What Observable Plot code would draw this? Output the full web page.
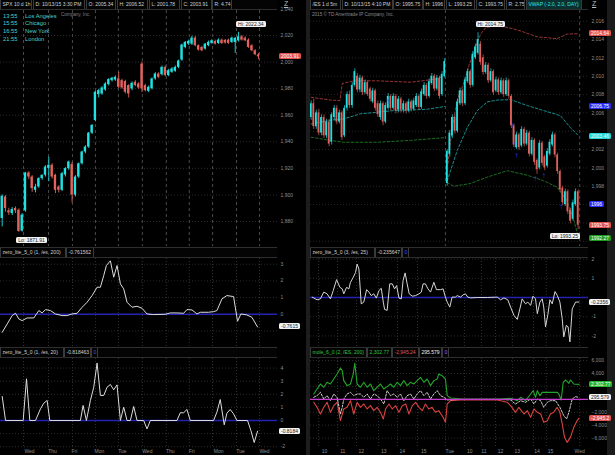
<!DOCTYPE html>
<html><head><meta charset="utf-8">
<script src="https://cdn.jsdelivr.net/npm/d3@7"></script>
<script src="https://cdn.jsdelivr.net/npm/@observablehq/plot@0.6"></script>
<style>
html,body{margin:0;padding:0;background:#000;}
#root{position:relative;width:615px;height:455px;background:#000;overflow:hidden;font-family:"Liberation Sans","DejaVu Sans",sans-serif;}
#root svg{position:absolute;overflow:visible;}
.bar{position:absolute;height:9px;border-top:1px solid #2e2e2e;border-bottom:1px solid #2e2e2e;background:#040404;}
.box{position:absolute;top:0;height:9px;border-left:1px solid #3a3a3a;border-right:1px solid #3a3a3a;box-sizing:border-box;font-size:5px;line-height:9px;padding:0 1.5px;white-space:nowrap;overflow:hidden;color:#cfcfcf;}
.tag{position:absolute;font-size:5px;line-height:6px;height:6px;padding:0 2px;border-radius:1.5px;white-space:nowrap;}
.txt{position:absolute;white-space:nowrap;}
</style></head>
<body><div id="root"></div>
<script>
// ---------------- DATA ----------------
// SPX 10 d 1h : [open, high, low, close]
const spxOHLC = [
[1882.3,1900,1876,1899],[1898.5,1899.5,1887,1889.8],[1888,1890,1884.5,1886.5],[1886,1890.5,1884.5,1889],
[1889.8,1891,1886,1888],[1888.5,1889.5,1871.91,1872.5],[1872.8,1886,1872,1884.8],[1888,1917,1887,1916.5],
[1916.5,1917.5,1911.5,1913.5],[1913.5,1914.5,1902,1904.8],[1903.5,1908,1901.5,1906],[1906,1913,1905,1912.3],
[1912.3,1915,1911,1914.8],[1914.8,1922,1913.5,1921],[1920,1928.5,1910,1922.3],[1922.3,1923.5,1912,1913.5],
[1914.8,1915.5,1901,1903.5],[1906,1907,1901.5,1903.5],[1903.5,1917,1902.5,1916],[1915,1920.5,1913.5,1919.8],
[1919.8,1925.5,1918.5,1924.8],[1923,1924.5,1894,1899.8],[1899.8,1914.5,1898.5,1913.5],[1913.5,1924,1912.5,1923.5],
[1923.5,1933,1922.5,1932.3],[1932.3,1937,1931,1936],[1936,1947,1935,1946.5],[1946.5,1953,1945.5,1952.3],
[1956,1978,1955,1977.3],[1975.5,1979.5,1973,1978.5],[1976,1981.5,1975,1980.5],[1979,1984.5,1978,1983.5],
[1983,1987.5,1982,1986.8],[1986,1988.5,1985,1987.8],[1986.5,1989.5,1985.5,1988.5],[1987.3,1992.3,1980,1981],
[1986,1987,1979.5,1980.5],[1985.3,1986.3,1976,1977.3],[1982.3,1983,1973,1976],[1979.8,1985,1978.5,1984],
[1984.8,1986,1981.5,1982.3],[1983.5,1984.5,1979.5,1980.5],[1998.5,2000,1977,1979.8],[1982.3,1983.3,1977.5,1978.5],
[1978,1982,1977,1981],[1980,1988,1979,1987.3],[1987.3,1992,1986.3,1991],[1991,1992,1987.5,1988.5],
[1990.5,1997,1989.5,1996],[1996,1997,1988.8,1989.8],[1989.8,1994.5,1989,1993.5],[1992.3,1995.8,1991.5,1994.8],
[1993,1997,1992.3,1996],[1996,2001.5,1995,2000.8],[2001.5,2013.5,2000.5,2012.8],[2011,2015.5,2010,2014.8],
[2013.5,2016.5,2012.5,2015.5],[2013.5,2019.5,2012.5,2018],[2018,2019.3,2011.5,2012.3],[2012.3,2013,2008.3,2009],
[2011,2011.8,2007.8,2008.5],[2009.8,2014,2009,2013.5],[2012.3,2015.8,2011.5,2014.8],[2014,2016.8,2013.3,2016],
[2015.5,2016.5,2012.8,2013.5],[2014,2017.5,2013.3,2016.5],[2016.5,2017.3,2013.3,2014],[2016.3,2017,2013.5,2014.3],
[2016.5,2017.3,2013.3,2014],[2014.8,2018.8,2014,2018],[2014.8,2018.5,2006.5,2017.8],[2016,2022.34,2015,2019],
[2019,2020,2015.8,2016.5],[2018,2019,2015.3,2016],[2016.5,2017.5,2010.3,2011],[2012.3,2013,2007.8,2008.5],
[2008.5,2009.3,2004.8,2005.5],[2005.34,2006.52,2001.78,2003.91]
];
const spxTicks = [2040,2020,2000,1980,1960,1940,1920,1900,1880];
const spxDayGrid = [6.4,13.9,21.1,28.0,34.9,42.1,49.3,56.2,63.2,70.4,77.3];
const dayNames = ["Wed","Thu","Fri","Mon","Tue","Wed","Thu","Fri","Mon","Tue","Wed"];
const dayLabelPos = [8.2,15.1,21.7,29.2,36.1,43.6,50.5,56.9,65.0,71.6,78.8];

// zero_lite_5_0 (1, /es, 200) : [bar, value]
const zl200 = [[0,-1.08],[1.5,-0.58],[3,-0.08],[4,0.06],[5,-0.28],[6,-0.38],[7.5,-0.22],[9.5,-0.22],[11,0.22],[12,0.08],
[13,0.28],[14.5,0.22],[16,0.02],[18,-0.08],[19.5,-0.08],[21,0.02],[22.5,0.06],[24,0.42],[25.5,0.72],[27,1.12],[28.5,1.62],
[29.5,1.62],[30.5,2.32],[31.3,2.92],[32.5,3.2],[33.5,2.22],[34.5,2.92],[35.5,1.82],[36.5,1.52],[37.5,0.72],[39,0.42],
[40.5,0.48],[42,0.36],[43.5,0.02],[45.5,-0.02],[49,0],[50.5,0.08],[52.5,0.08],[54.5,0.06],[55.5,0.28],[57,0.26],[58.5,0.02],
[59.5,0.12],[62,0.12],[63.5,0.16],[64.5,0.22],[66,0.92],[67.5,1.12],[69.5,1.06],[70.7,-0.42],[71.7,0.02],[73.5,-0.04],
[75,-0.18],[76.7,-0.76]];
const zl200Ticks = [3,2,1,0,-1];

// zero_lite_5_0 (1, /es, 20) : [bar, value]
const zl20 = [[0,1.83],[1,0],[6.3,0],[7.3,3.18],[8.3,0],[10,0],[11.5,0.89],[12.5,1.32],[13.5,1.53],[14.3,0],[23.5,0],
[24.3,1.15],[25.3,0],[26.5,1.53],[27.5,2.54],[28.5,4.38],[29.5,1.91],[30.5,1.91],[31.5,2.54],[32.5,2.75],[33.5,2.34],
[34.5,2.72],[35.5,0],[36.5,1.02],[37.5,0],[38.5,0],[39.5,1.07],[40.5,0],[42.5,0],[43.5,-0.64],[44.5,0],[52.5,0],
[53.5,0.59],[54.5,0.59],[55.5,0.84],[56.5,0],[63.5,0],[64.5,0.64],[65.5,1.6],[66.7,-0.33],[67.5,0.56],[68.5,0.84],
[69.5,0.51],[70.5,0],[73.7,0],[74.7,-0.76],[75.7,-1.68],[76.7,-0.82]];
const zl20Ticks = [4,3,2,1,0,-1,-2];

// /ES 1 d 5m : [open, high, low, close]
const esOHLC = [
[2005.5,2007.3,2005.2,2007],[2007,2007.5,2004.2,2004.5],[2004.5,2006.3,2004.2,2006],[2006,2006.4,2003.5,2003.8],
[2003.8,2005.8,2003.5,2005.5],[2005.5,2005.8,2003.2,2003.5],[2003.5,2005.3,2003.2,2005],[2005,2005.3,2002.3,2002.6],
[2002.8,2006,2002.5,2005.8],[2005.5,2006.8,2005.2,2006.5],[2006.5,2006.8,2004.7,2005],[2005,2006.3,2004.8,2006],
[2006,2006.2,2003,2003.3],[2003.5,2006.8,2003.3,2006.5],[2006.5,2008.3,2006.2,2008],[2008,2008.4,2006.5,2006.8],
[2006.8,2009.3,2006.5,2009],[2009,2010.8,2008.8,2010.5],[2010,2010.3,2008.2,2008.5],[2008.5,2010.1,2008.2,2009.8],
[2009.8,2010,2007.9,2008.2],[2008.2,2009.6,2008,2009.3],[2009.3,2009.5,2007.8,2008],[2008.6,2008.8,2007.2,2007.5],
[2007.2,2008.7,2007,2008.4],[2008.4,2008.6,2006.2,2006.5],[2007,2007.3,2005.5,2005.8],[2005.5,2007.3,2005.2,2007],
[2007,2007.2,2004.6,2005],[2005,2007.1,2004.8,2006.8],[2006.5,2008.1,2006.3,2007.8],[2007.8,2008,2006.2,2006.5],
[2006.5,2008.1,2006.3,2007.8],[2007.8,2008,2005.9,2006.2],[2006.3,2007.8,2006,2007.5],[2007.5,2007.7,2006,2006.3],
[2006.3,2007.3,2006,2007],[2007,2007.2,2005.9,2006.2],[2006.2,2007.5,2006,2007.2],[2007.2,2007.4,2006.1,2006.4],
[2006.4,2007.6,2006.2,2007.3],[2006.8,2008.1,2006.6,2007.8],[2007.8,2008,2006.3,2006.6],[2006.6,2008.6,2006.4,2008.3],
[2008,2009.3,2007.8,2009],[2009,2009.2,2007.5,2007.8],[2007.8,2009.7,2007.6,2009.4],[2009.2,2010.3,2009,2010],
[2010,2010.2,2008.3,2008.6],[2008.6,2010.1,2008.4,2009.8],[2009.8,2010,2007.5,2007.8],[2008,2010.5,2007.8,2010.2],
[2010,2011.9,2009.8,2011.6],[1998.3,2002,1998,2001.8],[2001.5,2004.1,2001.2,2003.8],[2003.5,2005.8,2003.2,2005.5],
[2005.5,2005.8,2003.7,2004],[2004,2007.5,2003.8,2007.2],[2007,2008.7,2006.8,2008.4],[2008.4,2008.6,2006.7,2007],
[2007,2009.9,2006.8,2009.6],[2009.4,2010.8,2009.2,2010.5],[2010.5,2010.7,2008.7,2009],[2009,2012.7,2008.8,2012.4],
[2012,2013.5,2011.8,2013.2],[2012.5,2014.75,2012.3,2014],[2013.5,2013.8,2011.2,2011.5],[2012,2012.3,2010.1,2010.4],
[2010.4,2011.5,2010.2,2011.2],[2011.2,2011.4,2009.2,2009.5],[2009.5,2010.8,2009.3,2010.5],[2010.5,2010.7,2007.9,2008.2],
[2008.4,2009.9,2008.2,2009.6],[2009.6,2009.8,2007.9,2008.2],[2008.2,2009.8,2008,2009.5],[2009.5,2009.7,2007.7,2008],
[2008,2009.8,2007.8,2009.5],[2009.5,2009.7,2007.5,2007.8],[2007.8,2008,2004.3,2004.6],[2004.6,2004.8,2002.2,2002.5],
[2002.2,2003.9,2002,2003.6],[2003.6,2003.8,2001.9,2002.2],[2002.4,2004.5,2002.2,2004.2],[2004.2,2004.4,2002.3,2002.6],
[2002.6,2004.1,2002.4,2003.8],[2003.8,2004,2001.2,2001.5],[2001.5,2003.3,2001.3,2003],[2003,2003.2,2000.3,2000.6],
[2000.8,2001,1999.3,1999.8],[2000,2003,1999.8,2002.7],[2002.7,2002.9,2000.2,2000.5],[2001.2,2001.4,1999.7,2000],
[2000.2,2002.1,2000,2001.8],[2001.5,2003.1,2001.3,2002.8],[2002.5,2003.9,2002.3,2003.6],[2003.6,2003.8,2001.1,2001.4],
[2001.4,2001.6,1999.3,1999.6],[1999.6,1999.8,1997.3,1997.6],[1997.8,1998,1995.9,1996.2],[1996,1997.7,1995.8,1997.4],
[1997.4,1997.6,1994.9,1995.2],[1995.4,1995.6,1993.9,1994.2],[1994.4,1996.5,1994.2,1996.2],[1996,1997.7,1995.8,1997.4],
[1997.4,1997.6,1993.25,1993.75]
];
const esTicks = [2016,2014,2012,2010,2008,2006,2004,2002,2000,1998,1996,1994,1992];
const hourGrid = [2.9,10.3,17.7,26.3,33.6,41.4,52.3,59.7,66.3,71.8,78.4,86.6,91.6,104.6];
const hourNames = ["10","11","12","13","14","15","Tue","10","11","12","13","14","15","Wed"];
const hourLabelPos = [5.2,12.3,19.5,28.3,35.5,43.9,54.0,61.8,67.3,73.8,80.3,88.0,93.2,104.6];
const sessionStarts = [52.3,104.6];

// VWAP (-2.0, 2.0, DAY) bands : [bar, price, session]
const vwapUpper = [[0,2007.7,1],[7.5,2007.4,1],[11.2,2007.35,1],[12.1,2009.2,1],[16.6,2009.5,1],[25.7,2009.5,1],[38.7,2009.35,1],[49.1,2009.7,1],[52,2010.1,1],
[53.3,2000.5,2],[55,2004.5,2],[57,2007.5,2],[59.5,2009.3,2],[61.5,2011.2,2],[63.5,2012.8,2],[66,2014.6,2],[68,2015.3,2],[72,2015.5,2],[77,2015.3,2],[82,2014.9,2],[88,2014.3,2],[92,2014.2,2],[95.8,2014.1,2],[99.7,2014.6,2],[104.3,2014.64,2]];
const vwapMid = [[0,2004.8,1],[7.5,2005.2,1],[12.7,2005.35,1],[19.2,2005.9,1],[32.2,2006.25,1],[45.2,2006.4,1],[52,2006.7,1],
[53,1998.6,2],[56.9,2001.9,2],[60.8,2004.4,2],[64.7,2006.25,2],[68.6,2007.2,2],[72.5,2007.4,2],[77.7,2007.45,2],[84.2,2006.8,2],[90.6,2006.25,2],[97.1,2005.7,2],[101,2004.4,2],[104.3,2003.46,2]];
const vwapLower = [[0,2003.35,1],[7.5,2003,1],[12.7,2002.8,1],[25.7,2002.8,1],[38.7,2003,1],[52,2003.3,1],
[53,1998.4,2],[55.6,1998,2],[62,1998.3,2],[68.6,1999,2],[76.4,1999.7,2],[84.2,1999.2,2],[90.6,1998.6,2],[95.8,1997.9,2],[99.7,1996.4,2],[102.3,1994.3,2],[104.3,1992.27,2]];
const esSignals = [[29.9,2007.2],[78.3,2004.6],[79,2002.6],[80,2001.35],[87.4,1998.8],[90.6,1999.2],[97.4,1995.8]];

// zero_lite_5_0 (3, /es, 25)
const zl25 = [[0.4,0.02],[2.3,-0.12],[3.6,-0.07],[4.9,0.28],[6.2,0.19],[7.5,-0.07],[8.6,0.36],[9.9,0.93],[11.2,0.53],[12.1,0.45],
[12.7,0.19],[13.8,0.53],[14.7,0.45],[15.3,0.79],[16.4,1.05],[17.3,1.31],[17.9,1.74],[18.6,1.48],[19.5,-0.33],[20.5,-0.24],
[21.6,0.41],[22.5,0.28],[23.4,0.1],[24.4,0.19],[25.4,-0.03],[26.4,0.36],[27.3,0.48],[28.1,-0.24],[28.6,-0.62],[29.6,-0.67],
[30.6,0.71],[31.6,0.71],[32.5,0.45],[33.3,0.62],[34.2,-0.03],[35.1,-0.07],[35.8,0.88],[36.6,1.28],[37.4,0.71],[38.2,0.19],
[39.4,0.07],[40.7,0.1],[42,0.19],[42.9,0.28],[43.6,0.71],[44.5,0.71],[45.5,0.45],[46.5,0.28],[47.8,0.79],[48.8,0.41],
[50.4,0.41],[51.4,0.45],[52.3,0.02],[53,-0.24],[54,-0.5],[54.9,0.02],[56.2,0.02],[56.9,0.1],[58.2,0.02],[59.2,0.14],
[60.1,0.19],[61,0.02],[62.1,-0.02],[64.7,0],[68.6,0],[72.5,0.02],[73.8,-0.12],[75.1,-0.02],[76.6,-0.12],[77.7,-0.5],
[79,-0.93],[80.3,-1.14],[81.3,-0.59],[82.2,-0.07],[83.5,-0.33],[84.4,-0.24],[85.5,-0.41],[86.4,0.07],[87.4,-0.07],[88.1,-0.84],
[89.1,-0.24],[90,-0.07],[90.6,-0.5],[91.3,-1.53],[92.2,-0.9],[93,-0.12],[93.9,-0.33],[95,0.31],[95.9,0.1],[96.9,-0.24],
[97.8,-1.1],[98.4,-2.05],[99.4,-1.45],[100.1,-1.53],[100.8,-2.31],[101.7,-0.59],[103,-0.24],[104.3,-0.2356]];
const zl25Ticks = [2,1,0,-1,-2];

// mole_6_0 (2, /ES, 200), thousands
const moleUpper = [[1,0.82],[2.3,1.6],[3.6,2.37],[4.9,1.86],[6.2,2.63],[7.5,2.37],[8.8,3.14],[10.1,3.92],[11.4,4.85],[12.1,4.43],
[12.7,2.89],[14,2.11],[15.3,2.37],[16.4,3.92],[17,5.57],[17.9,2.37],[19.2,1.86],[20.5,2.63],[21.8,1.86],[23.1,2.37],[24.4,1.34],
[25.7,1.86],[27,2.37],[28.3,1.6],[29.6,1.96],[30.9,2.37],[32.2,1.86],[33.5,2.63],[34.8,2.11],[36.1,2.89],[37.4,2.11],[38.7,2.63],
[40,2.37],[41.3,2.89],[42.6,3.4],[43.9,2.63],[45.2,3.14],[46.5,2.11],[47.8,2.89],[49.1,3.14],[49.7,3.92],[51,3.66],[52.3,3.14],
[53,0.57],[54.3,0.21],[58.2,0.05],[64.7,0],[72.5,0],[77.7,0.15],[80.3,-0.21],[81.6,0.31],[83.5,-0.21],[85.5,0.82],[86.5,1.34],
[87.4,0.31],[88.1,1.34],[89.1,0.57],[90,1.08],[92,1.08],[93.9,1.08],[95.9,1.08],[96.5,0.82],[97.4,-0.1],[98.2,2.63],[99.1,2.99],
[100.4,2.47],[101,2.99],[102.3,2.37],[104.3,2.30277]];
const moleLower = [[1,-0.46],[2.3,-1.24],[3.6,-2.27],[4.9,-1.24],[6.2,-0.46],[7.5,-2.01],[8.8,-0.98],[10.1,-0.46],[11.4,-3.3],[12.7,-1.49],
[14,-1.24],[15.3,-0.21],[16.6,-2.27],[17.9,-0.46],[19.2,-1.24],[20.5,-0.72],[21.8,-1.49],[23.1,-0.98],[24.4,-1.75],[25.7,-1.24],
[27,-2.01],[28.1,-3.04],[29,-1.49],[30.3,-0.72],[31.6,-1.49],[32.9,-0.98],[34.2,-2.01],[35.5,-0.98],[36.8,-0.72],[38.1,-2.27],
[39.4,-0.98],[40.7,-0.46],[42,-1.24],[43.3,-1.75],[44.5,-0.72],[45.8,-1.49],[47.1,-1.24],[48.4,-2.01],[49.7,-1.75],[51.4,-2.78],
[52.3,-3.56],[53,-0.72],[54.3,-0.21],[58.2,-0.1],[64.7,-0.1],[72.5,-0.1],[76.4,-0.46],[77.7,-0.98],[79.6,-2.01],[80.9,-1.24],
[82.9,-2.27],[84.2,-1.75],[85.5,-2.78],[86.8,-1.49],[88.1,-2.01],[89.4,-2.27],[90.6,-3.56],[92,-3.3],[93.2,-2.27],[94.5,-2.01],
[95.8,-1.24],[96.9,-2.01],[97.8,-3.81],[98.7,-5.88],[99.7,-6.65],[101,-5.88],[102.3,-4.33],[103.6,-3.3],[104.3,-2.94524]];
const moleMid = [[1,0.31],[2.3,0.57],[3.6,1.08],[4.9,0.05],[6.2,0.57],[7.5,-0.21],[8.8,0.82],[10.1,0.31],[11.4,-2.27],[12.1,-1.24],
[12.7,0.05],[14,0.82],[15.3,1.08],[16.6,0.57],[17.9,0.82],[19.2,0.82],[20.5,0.31],[21.8,0.82],[23.1,0.05],[24.4,0.82],[25.7,0.57],
[27,0.05],[28.3,-0.72],[29.6,1.34],[30.9,0.57],[32.2,0.82],[33.5,0.31],[34.8,0.82],[36.1,-0.21],[37.4,0.57],[38.7,0.82],[40,0.05],
[41.3,0.82],[42.6,1.34],[43.9,0.57],[45.2,1.08],[46.5,0.05],[47.8,0.82],[49.1,1.34],[50.4,0.57],[51.7,0.31],[53,-0.1],[58.2,0],
[72.5,0],[77.7,-0.1],[79.6,-0.72],[81.6,-0.21],[83.5,-0.46],[85.5,0.05],[86.8,-0.72],[88.1,0.05],[89.4,-0.21],[90.6,-1.24],
[92,-0.46],[93.2,-0.21],[95.2,-0.21],[96.9,-1.24],[98.4,-2.53],[99.5,-3.04],[100.4,-2.01],[101.7,0.05],[103,0.41],[104.3,0.295579]];
const moleTicks = [6,4,2,0,-2,-4,-6];

// ---------------- RENDER ----------------
const root = document.getElementById("root");
const FONT = '"Liberation Sans","DejaVu Sans",sans-serif';
const AX = "#8f8f8f", UP = "#1fe3e3", DN = "#e4625e";
const style = {background:"transparent", color:AX, fontFamily:FONT, fontSize:"5px", overflow:"visible"};

function put(el, left, top){ el.style.position="absolute"; el.style.left=left+"px"; el.style.top=top+"px"; root.appendChild(el); return el; }
function div(cls, html, css){ const d=document.createElement("div"); d.className=cls; d.innerHTML=html; Object.assign(d.style, css||{}); root.appendChild(d); return d; }
function tag(text, x, y, bg, fg){ return div("tag", text, {left:x+"px", top:(y-3)+"px", background:bg, color:fg}); }
// drop tick labels that a value tag covers (as in the reference)
function visibleTicks(ticks, domain, h, tagVals, minPx){
  const k = h / (domain[1]-domain[0]);
  return ticks.filter(t => tagVals.every(v => Math.abs(t-v)*k >= minPx));
}

function candleMarks(rows, halfW, wickW){
  const col = d => d[3] >= d[0] ? UP : DN;
  return [
    Plot.ruleX(rows, {x:(d,i)=>i, y1:d=>d[2], y2:d=>d[1], stroke:col, strokeWidth:wickW, clip:true}),
    Plot.rect(rows, {x1:(d,i)=>i-halfW, x2:(d,i)=>i+halfW, y1:d=>d[0], y2:d=>d[3], fill:col, clip:true})
  ];
}
const yAxisR = (ticks, fmt) => Plot.axisY({anchor:"right", ticks, tickSize:0, tickPadding:3, fontSize:5, label:null, tickFormat: fmt || (d=>d)});

const LX = [-0.51, 82.7], RX = [-0.26, 108.04];
const dLM = [1861.2,2038.8], dL2 = [-1.93,3.34], dL3 = [-2.06,4.73];
const dRM = [1991.43,2017.17], dR2 = [-2.55,2.03], dR3 = [-7.45,6.31];

// ---- left main
const pLM = Plot.plot({width:306, height:237, marginTop:0, marginLeft:0, marginRight:29, marginBottom:1, style,
  x:{domain:LX, axis:null}, y:{domain:dLM, axis:null},
  marks:[
    Plot.ruleY(spxTicks.slice(1), {stroke:"#2c2c2c", strokeDasharray:"1,2"}),
    Plot.ruleX(spxDayGrid, {stroke:"#4a4a4a", strokeDasharray:"3,3"}),
    ...candleMarks(spxOHLC, 0.35, 0.9),
    yAxisR(visibleTicks(spxTicks, dLM, 236, [2003.91], 5))
  ]});
put(pLM, 0, 10);

// ---- left zero_lite 200
const pL2 = Plot.plot({width:306, height:89, marginTop:0, marginLeft:0, marginRight:29, marginBottom:1, style,
  x:{domain:LX, axis:null}, y:{domain:dL2, axis:null},
  marks:[
    Plot.ruleY(zl200Ticks, {stroke:"#2c2c2c", strokeDasharray:"1,2"}),
    Plot.ruleX(spxDayGrid, {stroke:"#333", strokeDasharray:"1,2"}),
    Plot.ruleY([0], {stroke:"#2323b0", strokeWidth:1.3}),
    Plot.line(zl200, {x:d=>d[0], y:d=>d[1], stroke:"#dcdcdc", strokeWidth:1, clip:true}),
    yAxisR(visibleTicks(zl200Ticks, dL2, 88, [-0.7615], 5))
  ]});
put(pL2, 0, 258);

// ---- left zero_lite 20
const pL3 = Plot.plot({width:306, height:98, marginTop:1, marginLeft:0, marginRight:29, marginBottom:8, style,
  x:{domain:LX, axis:null}, y:{domain:dL3, axis:null},
  marks:[
    Plot.ruleY(zl20Ticks, {stroke:"#2c2c2c", strokeDasharray:"1,2"}),
    Plot.ruleX(spxDayGrid, {stroke:"#333", strokeDasharray:"1,2"}),
    Plot.ruleY([0], {stroke:"#2323b0", strokeWidth:1.3}),
    Plot.line(zl20, {x:d=>d[0], y:d=>d[1], stroke:"#dcdcdc", strokeWidth:1, clip:true}),
    yAxisR(visibleTicks(zl20Ticks, dL3, 89, [-0.8184], 5)),
    Plot.axisX({anchor:"bottom", ticks:dayLabelPos, tickSize:0, tickPadding:2, fontSize:5, label:null, tickFormat:d=>dayNames[dayLabelPos.indexOf(d)]})
  ]});
put(pL3, 0, 357);

// ---- right main
const esTags = [2014.64, 2006.75, 2003.46, 1996, 1993.75, 1992.27];
const pRM = Plot.plot({width:297, height:237, marginTop:0, marginLeft:0, marginRight:19, marginBottom:1, style,
  x:{domain:RX, axis:null}, y:{domain:dRM, axis:null},
  marks:[
    Plot.ruleY(esTicks, {stroke:"#262626", strokeDasharray:"1,2"}),
    Plot.ruleX(sessionStarts, {stroke:"#4a4a4a", strokeDasharray:"3,3"}),
    Plot.line(vwapUpper, {x:d=>d[0], y:d=>d[1], z:d=>d[2], stroke:"#a83a3a", strokeDasharray:"2.5,2", strokeWidth:0.9, clip:true}),
    Plot.line(vwapMid, {x:d=>d[0], y:d=>d[1], z:d=>d[2], stroke:"#1c9e9e", strokeDasharray:"2.5,2", strokeWidth:0.9, clip:true}),
    Plot.line(vwapLower, {x:d=>d[0], y:d=>d[1], z:d=>d[2], stroke:"#1f7a24", strokeDasharray:"2.5,2", strokeWidth:0.9, clip:true}),
    ...candleMarks(esOHLC, 0.33, 0.7),
    Plot.text(esSignals, {x:d=>d[0], y:d=>d[1], text:()=>"↑", fill:"#2b3cff", fontSize:8, fontWeight:"bold"}),
    yAxisR(visibleTicks(esTicks, dRM, 236, esTags, 5.2))
  ]});
put(pRM, 310, 10);

// ---- right zero_lite 25
const pR2 = Plot.plot({width:297, height:89, marginTop:0, marginLeft:0, marginRight:19, marginBottom:1, style,
  x:{domain:RX, axis:null}, y:{domain:dR2, axis:null},
  marks:[
    Plot.ruleY(zl25Ticks, {stroke:"#2c2c2c", strokeDasharray:"1,2"}),
    Plot.ruleX(hourGrid, {stroke:"#333", strokeDasharray:"1,2"}),
    Plot.ruleY([0], {stroke:"#2323b0", strokeWidth:1.3}),
    Plot.line(zl25, {x:d=>d[0], y:d=>d[1], stroke:"#d6d6d6", strokeWidth:1, clip:true}),
    yAxisR(visibleTicks(zl25Ticks, dR2, 88, [-0.2356], 5))
  ]});
put(pR2, 310, 258);

// ---- right mole
const moleTags = [2.30277, 0.295579, -2.94524];
const pR3 = Plot.plot({width:297, height:98, marginTop:1, marginLeft:0, marginRight:19, marginBottom:8, style,
  x:{domain:RX, axis:null}, y:{domain:dR3, axis:null},
  marks:[
    Plot.ruleY(moleTicks, {stroke:"#2c2c2c", strokeDasharray:"1,2"}),
    Plot.ruleX(hourGrid, {stroke:"#333", strokeDasharray:"1,2"}),
    Plot.line(moleUpper, {x:d=>d[0], y:d=>d[1], stroke:"#22a52a", strokeWidth:1.1, clip:true}),
    Plot.line(moleLower, {x:d=>d[0], y:d=>d[1], stroke:"#d9423f", strokeWidth:1.1, clip:true}),
    Plot.line(moleMid, {x:d=>d[0], y:d=>d[1], stroke:"#e6e6e6", strokeWidth:0.9, strokeDasharray:"2,1.5", clip:true}),
    Plot.ruleY([0], {stroke:"#c23ccf", strokeWidth:1.2}),
    yAxisR(visibleTicks(moleTicks, dR3, 89, moleTags, 5), d => d3.format(",")(d*1000)),
    Plot.axisX({anchor:"bottom", ticks:hourLabelPos, tickSize:0, tickPadding:2, fontSize:5, label:null, tickFormat:d=>hourNames[hourLabelPos.indexOf(d)]})
  ]});
put(pR3, 310, 357);

// ---- separators
div("", "", {position:"absolute", left:"306px", top:"0px", width:"4px", height:"455px", background:"#1d1d1d"});
div("", "", {position:"absolute", left:"607px", top:"0px", width:"8px", height:"455px", background:"#1b1b1b"});

// ---- header bars
function headerBar(left, top, width, boxes){
  div("bar", "", {left:left+"px", top:top+"px", width:width+"px"});
  boxes.forEach(b => div("box", b[2], {left:b[0]+"px", top:(top+1)+"px", width:(b[1]-b[0])+"px", color:b[3]||"#cfcfcf", background:b[4]||"transparent"}));
}
headerBar(0, -1, 277, [[0,32,"SPX 10 d 1h"],[33,85,"D: 10/13/15 3:30 PM"],[86,116,"O: 2005.34"],[117,148,"H: 2006.52"],[149,180,"L: 2001.78"],[181,212,"C: 2003.91"],[212,232,"R: 4.74"]]);
headerBar(310, -1, 278, [[310,341,"/ES 1 d 5m"],[342,393,"D: 10/13/15 4:10 PM"],[393,423,"O: 1995.75"],[423,445,"H: 1996"],[446,475,"L: 1993.25"],[476,505,"C: 1993.75"],[506,525,"R: 2.75"],[526,582,"VWAP (-2.0, 2.0, DAY)","#35e0e0","#0b3030"]]);
headerBar(0, 247, 277, [[0,66,"zero_lite_5_0 (1, /es, 200)"],[66,94,"-0.761562"]]);
headerBar(0, 347, 277, [[0,64,"zero_lite_5_0 (1, /es, 20)"],[64,91,"-0.818463"],[91,98,"0","#4a4aff"]]);
headerBar(310, 247, 278, [[310,375,"zero_lite_5_0 (3, /es, 25)"],[375,402,"-0.235647"],[402,409,"0","#4a4aff"]]);
headerBar(310, 347, 278, [[310,367,"mole_6_0 (2, /ES, 200)","#2fc43a"],[367,392,"2,302.77","#2fc43a"],[392,419,"-2,945.24","#e4524e"],[419,442,"295.579","#eeeeee"],[442,449,"0","#d24ce0"]]);

// zoom icons
div("txt", "Z", {left:"284px", top:"0px", fontSize:"7px", color:"#bbb", textDecoration:"underline"});
div("txt", "Z", {left:"592px", top:"0px", fontSize:"7px", color:"#bbb", textDecoration:"underline"});

// ---- overlay texts
const clocks = [["13:55","Los Angeles"],["15:55","Chicago"],["16:55","New York"],["21:55","London"]];
div("txt", "Company, Inc.", {left:"61px", top:"12px", fontSize:"4.6px", color:"#808080"});
clocks.forEach((c,i) => {
  div("txt", c[0], {left:"3px", top:(12.5+i*7.8)+"px", fontSize:"5.8px", color:"#48d2d2"});
  div("txt", c[1], {left:"25px", top:(12.5+i*7.8)+"px", fontSize:"5.8px", color:"#48d2d2"});
});
div("txt", "2015 © TD Ameritrade IP Company, Inc.", {left:"312px", top:"12px", fontSize:"4.6px", color:"#8a8a8a"});

// ---- tags (positioned through scales)
const yL = v => pLM.scale("y").apply(v) + 10, xL = v => pLM.scale("x").apply(v);
const yR = v => pRM.scale("y").apply(v) + 10, xR = v => pRM.scale("x").apply(v) + 310;
tag("2003.91", 279, yL(2003.91), "#e0524f", "#fff");
tag("Hi: 2022.34", xL(71)-2, yL(2022.34)-8, "#f2f2f2", "#222");
tag("Lo: 1871.91", xL(5)-2, yL(1871.91)+8, "#f2f2f2", "#222");
tag("Hi: 2014.75", xR(65)-2, yR(2014.75)-8, "#f2f2f2", "#222");
tag("Lo: 1993.25", xR(104)-28, yR(1993.25)+7, "#f2f2f2", "#222");
const esTagStyle = [["#e0524f","#fff"],["#2a2cf2","#fff"],["#21d6d6","#f4ffff"],["#2a2cf2","#fff"],["#e0524f","#fff"],["#1e9a22","#fff"]];
esTags.forEach((v,i) => tag(String(v), 589, yR(v), esTagStyle[i][0], esTagStyle[i][1]));
tag("-0.7615", 279, pL2.scale("y").apply(-0.7615)+258, "#f2f2f2", "#222");
tag("-0.8184", 279, pL3.scale("y").apply(-0.8184)+357, "#f2f2f2", "#222");
tag("-0.2356", 589, pR2.scale("y").apply(-0.2356)+258, "#f2f2f2", "#222");
tag("2,302.77", 589, pR3.scale("y").apply(moleTags[0])+357, "#24b52c", "#fff");
tag("295.579", 589, pR3.scale("y").apply(moleTags[1])+357, "#f2f2f2", "#222");
tag("-2,945.2", 589, pR3.scale("y").apply(moleTags[2])+357, "#e0524f", "#fff");
</script></body></html>
